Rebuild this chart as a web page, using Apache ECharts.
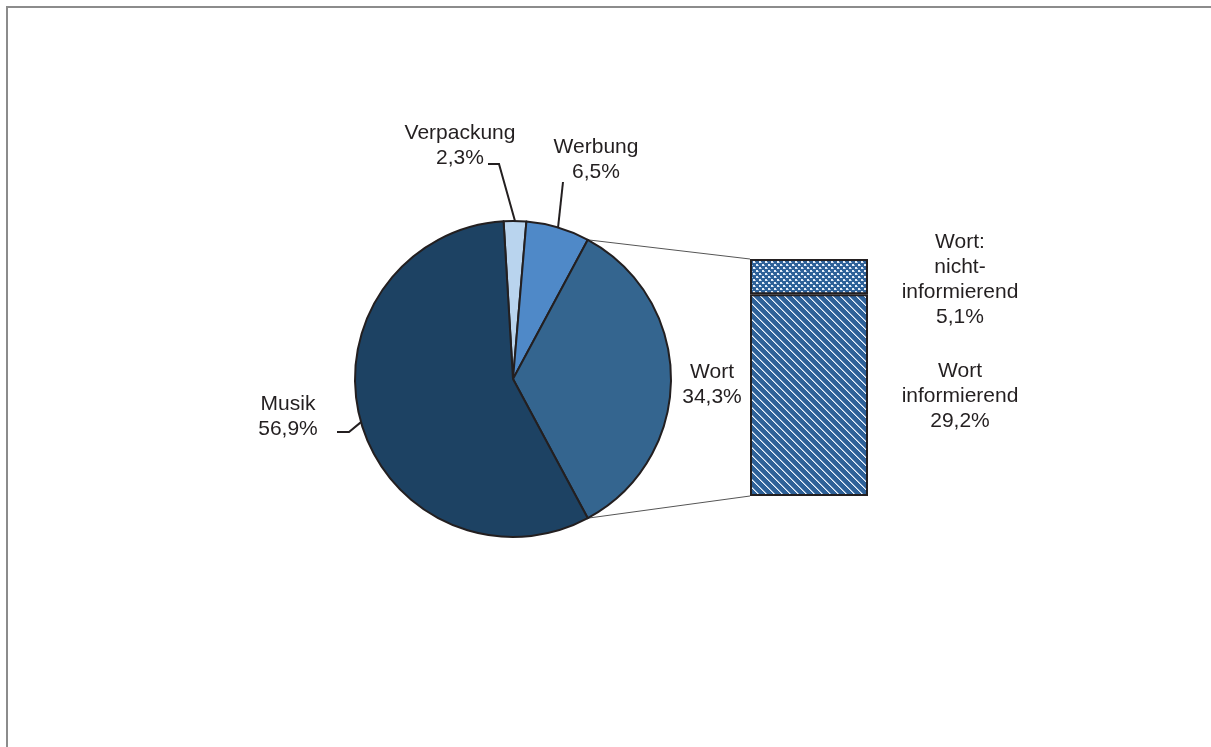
<!DOCTYPE html>
<html>
<head>
<meta charset="utf-8">
<script src="https://cdn.jsdelivr.net/npm/echarts@6/dist/echarts.min.js"></script>
<style>
  html, body { margin: 0; padding: 0; background: #fff; }
  #frame { position: absolute; left: 6px; top: 6px; width: 1300px; height: 800px;
           border-top: 2px solid #8c8c8c; border-left: 2px solid #8c8c8c; }
  #chart { position: absolute; left: 0; top: 0; width: 1211px; height: 747px; }
</style>
</head>
<body>
<div id="frame"></div>
<div id="chart"></div>
<script>
// Anteile der Sendezeit (in %)
const pieNames  = ['Verpackung', 'Werbung', 'Wort', 'Musik'];
const pieValues = [2.3, 6.5, 34.3, 56.9];
const pieColors = ['#b9d4ee', '#4f89c8', '#34658f', '#1d4263'];

// Aufteilung des Wortanteils
const wortNames  = ['Wort\ninformierend', 'Wort:\nnicht-\ninformierend'];
const wortValues = [29.2, 5.1];

const fmt = v => v.toFixed(1).replace('.', ',') + '%';
const TEXT = '#231f20';
const FONT = '"Liberation Sans", Arial, Helvetica, sans-serif';

// Pie geometry
const CX = 513, CY = 379, R = 158;
const total = pieValues.reduce((a, b) => a + b, 0);
// Wort slice is centred on 3 o'clock; everything before it is stacked above
const wortIdx = 2;
const before = pieValues.slice(0, wortIdx).reduce((a, b) => a + b, 0);
const startAngle = (pieValues[wortIdx] / 2 + before) / total * 360;

function sliceMid(i) {
  const s = pieValues.slice(0, i).reduce((a, b) => a + b, 0);
  return startAngle - (s + pieValues[i] / 2) / total * 360;
}
function edgePoint(deg) {
  const r = deg * Math.PI / 180;
  return [CX + R * Math.cos(r), CY - R * Math.sin(r)];
}

// Label placement per slice: text centre, elbow and end of the leader
const labelPlace = {
  0: { x: 460, y: 146, elbow: [499, 164], end: [488, 164] },
  1: { x: 596, y: 160, elbow: [563, 182], end: null },
  2: { x: 712, y: 385, elbow: null, end: null },
  3: { x: 288, y: 417, elbow: [349, 432], end: [337, 432] }
};

// Small repeating fills for the Wort column
function stripePattern() {
  const c = document.createElement('canvas');
  c.width = 8; c.height = 8;
  const g = c.getContext('2d');
  g.fillStyle = '#2e6198';
  g.fillRect(0, 0, 8, 8);
  for (let i = 0; i < 8; i++) {
    g.fillStyle = '#f2f6fb';
    g.fillRect(i, i, 1, 1);
    g.fillStyle = '#93b2d6';
    g.fillRect((i + 1) % 8, i, 1, 1);
  }
  return c;
}
function checkPattern() {
  const c = document.createElement('canvas');
  c.width = 6; c.height = 6;
  const g = c.getContext('2d');
  g.fillStyle = '#2e6198';
  g.fillRect(0, 0, 6, 6);
  g.fillStyle = '#e6eef8';
  g.fillRect(0, 0, 2, 2);
  g.fillRect(3, 3, 2, 2);
  g.fillStyle = '#93b2d6';
  g.fillRect(2, 1, 1, 1);
  g.fillRect(5, 4, 1, 1);
  return c;
}

const chart = echarts.init(document.getElementById('chart'), null, { renderer: 'canvas' });

const textStyle = { color: TEXT, fontSize: 21, lineHeight: 25, fontFamily: FONT };

const option = {
  animation: false,
  backgroundColor: 'transparent',
  grid: { left: 750, top: 259, width: 118, height: 237 },
  xAxis: { type: 'category', data: ['Wort'], show: false },
  yAxis: { type: 'value', min: 0, max: wortValues[0] + wortValues[1], show: false },
  series: [
    {
      type: 'pie',
      center: [CX, CY],
      radius: [0, R],
      startAngle: startAngle,
      clockwise: true,
      avoidLabelOverlap: false,
      data: pieNames.map((n, i) => ({
        name: n, value: pieValues[i],
        itemStyle: { color: pieColors[i] },
        labelLine: { show: i !== wortIdx }
      })),
      itemStyle: { borderColor: TEXT, borderWidth: 2 },
      label: {
        show: true,
        position: 'outside',
        formatter: p => p.name + '\n' + fmt(p.value),
        align: 'center',
        ...textStyle
      },
      labelLine: { show: true, lineStyle: { color: TEXT, width: 2 }, length: 20, length2: 10 },
      labelLayout: params => {
        const i = params.dataIndex;
        const pl = labelPlace[i];
        const out = { x: pl.x, y: pl.y, align: 'center', verticalAlign: 'middle' };
        if (pl.elbow) {
          const pts = [edgePoint(sliceMid(i)), pl.elbow];
          pts.push(pl.end || pl.elbow);
          out.labelLinePoints = pts;
        }
        return out;
      }
    },
    {
      type: 'bar',
      stack: 'wort',
      barWidth: '100%',
      data: [wortValues[0]],
      itemStyle: { color: { image: stripePattern(), repeat: 'repeat' }, borderColor: TEXT, borderWidth: 2 },
      label: {
        show: true,
        position: [210, 102],
        align: 'center', verticalAlign: 'middle',
        formatter: () => wortNames[0] + '\n' + fmt(wortValues[0]),
        ...textStyle
      }
    },
    {
      type: 'bar',
      stack: 'wort',
      barWidth: '100%',
      data: [wortValues[1]],
      itemStyle: { color: { image: checkPattern(), repeat: 'repeat' }, borderColor: TEXT, borderWidth: 2 },
      label: {
        show: true,
        position: [210, 21],
        align: 'center', verticalAlign: 'middle',
        formatter: () => wortNames[1] + '\n' + fmt(wortValues[1]),
        ...textStyle
      }
    }
  ]
};

chart.setOption(option);

// Connector lines from the Wort slice edges to the column corners
const wortStart = startAngle - before / total * 360;
const wortEnd = wortStart - pieValues[wortIdx] / total * 360;
const topLeft = chart.convertToPixel({ gridIndex: 0 }, ['Wort', wortValues[0] + wortValues[1]]);
const botLeft = chart.convertToPixel({ gridIndex: 0 }, ['Wort', 0]);
const colLeft = 750;
const p1 = edgePoint(wortStart), p2 = edgePoint(wortEnd);
chart.setOption({
  graphic: [
    { type: 'line', z: 0, shape: { x1: p1[0], y1: p1[1], x2: colLeft, y2: topLeft[1] },
      style: { stroke: '#555', lineWidth: 1 } },
    { type: 'line', z: 0, shape: { x1: p2[0], y1: p2[1], x2: colLeft, y2: botLeft[1] },
      style: { stroke: '#555', lineWidth: 1 } }
  ]
});
</script>
</body>
</html>
